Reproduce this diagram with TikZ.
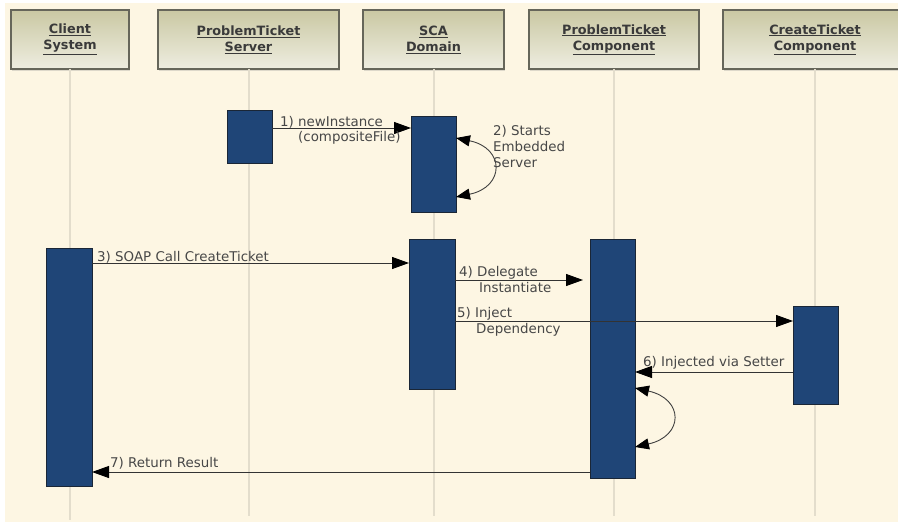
\documentclass[tikz,border=0pt]{standalone}
\usepackage{fontspec}
\setmainfont{DejaVu Sans}
\usetikzlibrary{arrows.meta,shadows}

\definecolor{paper}{HTML}{FDF6E3}
\definecolor{lifeln}{HTML}{E3DDCC}
\definecolor{headtop}{HTML}{CAC8A3}
\definecolor{headbot}{HTML}{EEEDE0}
\definecolor{headedge}{HTML}{66665A}
\definecolor{actfill}{HTML}{1F4577}
\definecolor{actedge}{HTML}{1A2636}
\definecolor{txt}{HTML}{474747}
\definecolor{headtxt}{HTML}{3A3A3A}

\tikzset{
  header/.style={draw=headedge, line width=1.1pt, top color=headtop, bottom color=headbot,
    minimum height=59pt, inner sep=0pt, outer sep=0pt, align=center,
    font=\fontsize{12.8}{16}\selectfont\bfseries, text=headtxt,
    drop shadow={shadow xshift=1pt, shadow yshift=-1.5pt, opacity=0.25}},
  lifeline/.style={draw=lifeln, line width=2pt},
  act/.style={draw=actedge, line width=0.8pt, fill=actfill, inner sep=0pt, outer sep=0pt,
    anchor=north west},
  msg/.style={draw=black!80, line width=1pt, -{Triangle[length=17pt,width=12pt,color=black]}},
  selfmsg/.style={draw=black!75, line width=0.9pt,
    {Triangle[length=14pt,width=11pt,color=black]}-{Triangle[length=14pt,width=11pt,color=black]}},
  lbl/.style={font=\fontsize{13.4}{16}\selectfont, text=txt, inner sep=0pt, anchor=base west},
}

\begin{document}
\begin{tikzpicture}[x=1pt, y=-1pt]
  % page and paper
  \fill[white] (0,0) rectangle (898,522);
  \fill[paper] (5,3) rectangle (898,522);
  \useasboundingbox (0,0) rectangle (898,522);

  % object headers
  \node[header, minimum width=118pt] (client) at (70,39.5) {\underline{Client}\\\underline{System}};
  \node[header, minimum width=181pt] (srv) at (248.5,39.5) {\underline{ProblemTicket}\\\underline{Server}};
  \node[header, minimum width=141pt] (dom) at (433.5,39.5) {\underline{SCA}\\\underline{Domain}};
  \node[header, minimum width=170pt] (ptc) at (614,39.5) {\underline{ProblemTicket}\\\underline{Component}};
  \node[header, minimum width=184pt] (ctc) at (815,39.5) {\underline{CreateTicket}\\\underline{Component}};

  % lifeline ends
  \coordinate (clientEnd) at (70,520);
  \coordinate (srvEnd) at (248.5,516);
  \coordinate (domEnd) at (433.5,516);
  \coordinate (ptcEnd) at (614,516);
  \coordinate (ctcEnd) at (815,516);

  \draw[lifeline] (client.south) -- (clientEnd);
  \draw[lifeline] (srv.south) -- (srvEnd);
  \draw[lifeline] (dom.south) -- (domEnd);
  \draw[lifeline] (ptc.south) -- (ptcEnd);
  \draw[lifeline] (ctc.south) -- (ctcEnd);

  % activation bars
  \node[act, minimum width=45pt, minimum height=53pt] (srvA) at (227,110) {};
  \node[act, minimum width=45pt, minimum height=96pt] (domA) at (411,116) {};
  \node[act, minimum width=46pt, minimum height=238pt] (clientA) at (46,248) {};
  \node[act, minimum width=46pt, minimum height=150pt] (domB) at (409,239) {};
  \node[act, minimum width=45pt, minimum height=239pt] (ptcA) at (590,239) {};
  \node[act, minimum width=45pt, minimum height=98pt] (ctcA) at (793,306) {};

  % message heights
  \coordinate (y1) at (0,128);
  \coordinate (y3) at (0,263);
  \coordinate (y4) at (0,280);
  \coordinate (y5) at (0,321);
  \coordinate (y6) at (0,372);
  \coordinate (y7) at (0,472);

  % 1) newInstance
  \draw[msg] (srvA.east |- y1) -- (domA.west |- y1);
  \node[lbl] (l1a) at (280,126) {1) newInstance};
  \node[lbl] (l1b) at (298,141) {(compositeFile)};

  % 2) self call on the domain
  \coordinate (s2a) at (domA.east |- 0,138);
  \coordinate (s2b) at (domA.east |- 0,197);
  \draw[selfmsg] (s2a) .. controls (505,148) and (505,187) .. (s2b);
  \node[lbl] (l2a) at (493,135) {2) Starts};
  \node[lbl] (l2b) at (493,151) {Embedded};
  \node[lbl] (l2c) at (493,167) {Server};

  % 3) SOAP call
  \draw[msg] (clientA.east |- y3) -- (domB.west |- y3);
  \node[lbl] (l3) at (97,261) {3) SOAP Call CreateTicket};

  % 4) delegate
  \draw[msg, shorten >=7pt] (domB.east |- y4) -- (ptcA.west |- y4);
  \node[lbl] (l4a) at (459,276) {4) Delegate};
  \node[lbl] (l4b) at (479,292) {Instantiate};

  % 5) inject dependency
  \draw[msg] (domB.east |- y5) -- (ctcA.west |- y5);
  \node[lbl] (l5a) at (457,317) {5) Inject};
  \node[lbl] (l5b) at (476,333) {Dependency};

  % 6) injected via setter
  \draw[msg] (ctcA.west |- y6) -- (ptcA.east |- y6);
  \node[lbl] (l6) at (643,366) {6) Injected via Setter};

  % self call on the component
  \coordinate (s6a) at (ptcA.east |- 0,388);
  \coordinate (s6b) at (ptcA.east |- 0,447);
  \draw[selfmsg] (s6a) .. controls (684,399) and (684,436) .. (s6b);

  % 7) return result
  \draw[msg] (ptcA.west |- y7) -- (clientA.east |- y7);
  \node[lbl] (l7) at (110,467) {7) Return Result};
\end{tikzpicture}
\end{document}
